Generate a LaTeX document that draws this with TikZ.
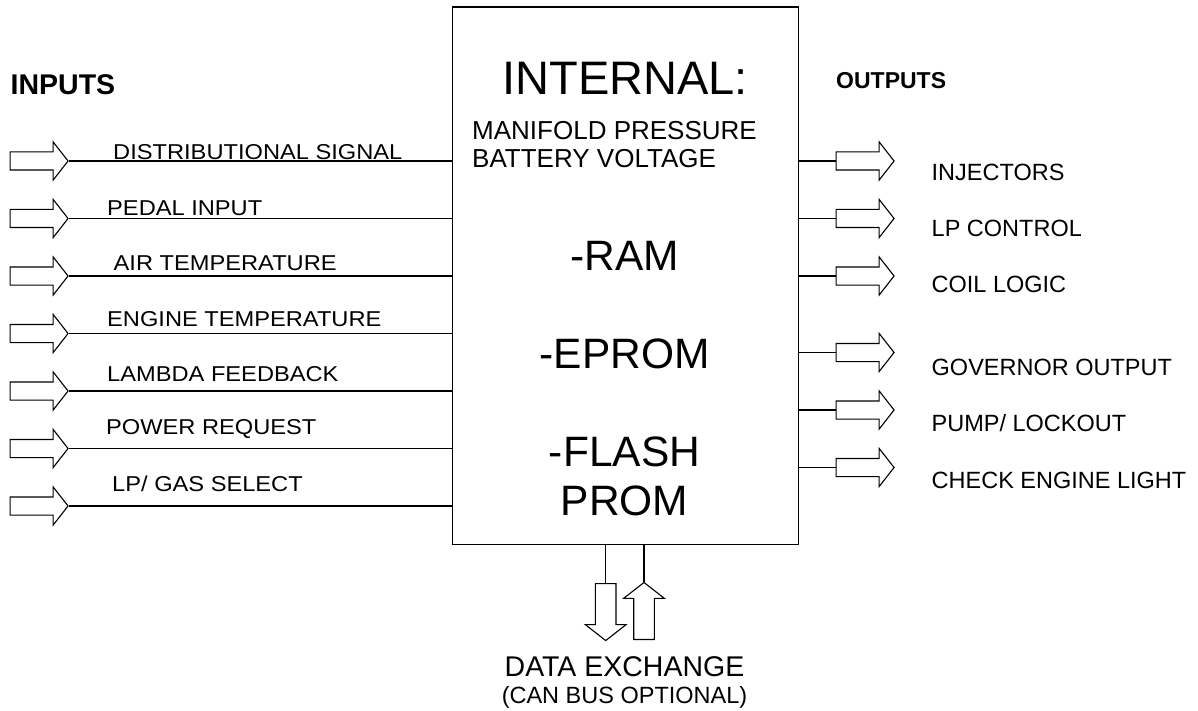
\documentclass[tikz,border=0pt]{standalone}
\usepackage{fontspec}
\setmainfont{Liberation Sans}
\usetikzlibrary{shapes.arrows}
\tikzset{
  blockarrow/.style={shape=single arrow, draw, line width=1.1pt, inner sep=8.5pt,
    minimum height=58pt, minimum width=37pt, single arrow head extend=10pt,
    single arrow tip angle=104, single arrow head indent=0pt, anchor=tail},
  wire/.style={line width=1.1pt},
  inlabel/.style={anchor=base west, inner sep=0pt, font=\fontsize{21.5}{24}\selectfont},
  outlabel/.style={anchor=base west, inner sep=0pt, font=\fontsize{23.5}{26}\selectfont},
  bigtext/.style={anchor=base, inner sep=0pt, font=\fontsize{42.5}{48}\selectfont},
  midtext/.style={anchor=base west, inner sep=0pt, font=\fontsize{26}{30}\selectfont},
  heading/.style={anchor=base west, inner sep=0pt}
}
\newcommand{\stretchx}[1]{\scalebox{1.1}[1]{#1}}
\begin{document}
\begin{tikzpicture}[x=1pt,y=-1pt]
\fill[white] (0,0) rectangle (1198,711);
\useasboundingbox (0,0) rectangle (1198,711);

% main box
\node[draw, line width=1.6pt, minimum width=346pt, minimum height=537pt, inner sep=0pt] (ecu) at (625.3,275.8) {};

% box texts
\node[anchor=base, inner sep=0pt, font=\fontsize{47}{52}\selectfont] (internal) at (625.3,94.3) {INTERNAL:};
\node[midtext] (manifold) at (472,139.3) {MANIFOLD PRESSURE};
\node[midtext] (battery) at (472,167.7) {BATTERY VOLTAGE};
\node[bigtext] (ram) at (624.5,270) {-RAM};
\node[bigtext] (eprom) at (624.5,368.3) {-EPROM};
\node[bigtext] (flash) at (624.5,466.7) {-FLASH};
\node[bigtext] (prom) at (624.5,515) {PROM};

% headings
\node[heading, font=\fontsize{28.5}{32}\selectfont\bfseries] (inputs) at (10.5,95) {INPUTS};
\node[heading, font=\fontsize{23}{26}\selectfont\bfseries] (outputs) at (836,88.3) {OUTPUTS};

% input arrows
\foreach \i/\y in {1/161, 2/218.5, 3/276, 4/333.5, 5/391, 6/448.5, 7/506} {
  \node[blockarrow] (in\i) at (9.5,\y) {};
  \draw[wire] (in\i.tip) -- (in\i.tip -| ecu.west);
}
\node[inlabel] (l1) at (113,159.3) {\stretchx{DISTRIBUTIONAL SIGNAL}};
\node[inlabel] (l2) at (107,215) {\stretchx{PEDAL INPUT}};
\node[inlabel] (l3) at (113.5,270) {\stretchx{AIR TEMPERATURE}};
\node[inlabel] (l4) at (107,326) {\stretchx{ENGINE TEMPERATURE}};
\node[inlabel] (l5) at (107,381.7) {\stretchx{LAMBDA FEEDBACK}};
\node[inlabel] (l6) at (106,434) {\stretchx{POWER REQUEST}};
\node[inlabel] (l7) at (112,491.7) {\stretchx{LP/ GAS SELECT}};

% output arrows
\foreach \i/\y in {1/161, 2/218.5, 3/276, 4/352.5, 5/410, 6/467.5} {
  \node[blockarrow] (out\i) at (835.5,\y) {};
  \draw[wire] (out\i.tail -| ecu.east) -- (out\i.tail);
}
\node[outlabel] (r1) at (931.5,181) {INJECTORS};
\node[outlabel] (r2) at (931.5,236.7) {LP CONTROL};
\node[outlabel] (r3) at (931.5,292.3) {COIL LOGIC};
\node[outlabel] (r4) at (931.5,375) {GOVERNOR OUTPUT};
\node[outlabel] (r5) at (931.5,431.7) {PUMP/ LOCKOUT};
\node[outlabel] (r6) at (931.5,488.3) {CHECK ENGINE LIGHT};

% data exchange arrows
\node[blockarrow, shape border rotate=270, inner sep=9.75pt, minimum width=39.5pt, minimum height=57pt] (dn) at (605.7,583) {};
\draw[wire] (dn.tail |- ecu.south) -- (dn.tail);
\node[blockarrow, shape border rotate=90, inner sep=9.75pt, minimum width=39.5pt, minimum height=57pt] (up) at (644,640) {};
\draw[wire] (up.tip |- ecu.south) -- (up.tip);

\node[anchor=base, inner sep=0pt, font=\fontsize{28.5}{32}\selectfont] (data) at (624.5,676.7) {DATA EXCHANGE};
\node[anchor=base, inner sep=0pt, font=\fontsize{23.5}{26}\selectfont] (can) at (624.5,703) {(CAN BUS OPTIONAL)};
\end{tikzpicture}
\end{document}
